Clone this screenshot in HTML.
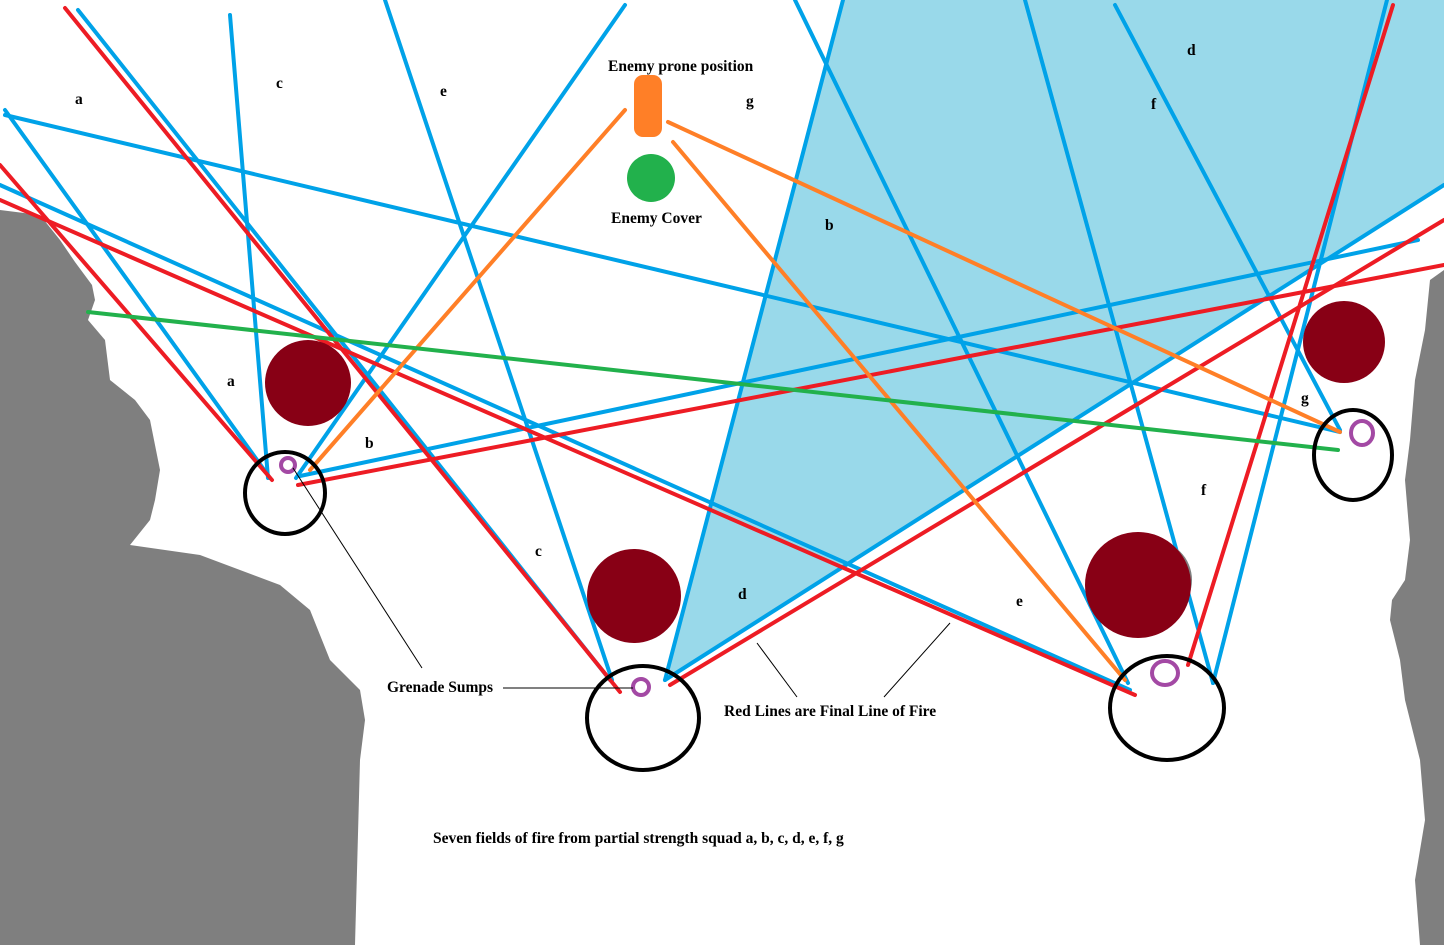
<!DOCTYPE html>
<html><head><meta charset="utf-8"><style>body{margin:0;background:#fff}svg{display:block}</style></head><body>
<svg width="1444" height="945" viewBox="0 0 1444 945" xmlns="http://www.w3.org/2000/svg">
<rect width="1444" height="945" fill="#fff"/>
<polygon fill="#7f7f7f" points="0,210 40,215 60,240 75,262 92,285 95,300 88,320 105,340 110,380 135,400 150,420 160,470 155,500 150,520 130,545 200,555 240,570 280,585 310,610 330,660 360,690 365,720 360,760 355,945 0,945"/>
<polygon fill="#7f7f7f" points="1444,270 1430,280 1425,330 1415,380 1410,440 1405,480 1410,540 1405,580 1392,600 1390,620 1400,660 1405,700 1420,760 1425,820 1415,880 1420,945 1444,945"/>
<polygon fill="#99d9ea" points="843,0 1444,0 1444,185 665,680"/>
<g stroke-width="4" stroke-linecap="round" fill="none">
<g stroke="#00a2e8">
<line x1="5" y1="110" x2="270" y2="478"/>
<line x1="5" y1="115" x2="1340" y2="432"/>
<line x1="230" y1="15" x2="268" y2="478"/>
<line x1="78" y1="10" x2="610" y2="680"/>
<line x1="385" y1="0" x2="612" y2="680"/>
<line x1="625" y1="5" x2="296" y2="478"/>
<line x1="300" y1="476" x2="1418" y2="240"/>
<line x1="0" y1="185" x2="1130" y2="690"/>
<line x1="843" y1="0" x2="665" y2="680"/>
<line x1="665" y1="680" x2="1444" y2="185"/>
<line x1="795" y1="0" x2="1128" y2="683"/>
<line x1="1025" y1="0" x2="1213" y2="683"/>
<line x1="1387" y1="0" x2="1213" y2="683"/>
<line x1="1115" y1="5" x2="1340" y2="430"/>
</g>
<g stroke="#ed1c24">
<line x1="0" y1="165" x2="272" y2="480"/>
<line x1="65" y1="8" x2="620" y2="692"/>
<line x1="298" y1="485" x2="1444" y2="265"/>
<line x1="0" y1="200" x2="1135" y2="695"/>
<line x1="670" y1="685" x2="1444" y2="220"/>
<line x1="1188" y1="665" x2="1393" y2="5"/>
</g>
<g stroke="#ff7f27">
<line x1="625" y1="110" x2="310" y2="470"/>
<line x1="668" y1="122" x2="1340" y2="432"/>
<line x1="673" y1="142" x2="1125" y2="680"/>
</g>
<line stroke="#22b14c" x1="88" y1="312" x2="1338" y2="450"/>
</g>
<circle cx="308" cy="383" r="43" fill="#880015"/>
<circle cx="634" cy="596" r="47" fill="#880015"/>
<circle cx="1152" cy="580" r="40" fill="#7f7f7f"/>
<circle cx="1138" cy="585" r="53" fill="#880015"/>
<circle cx="1344" cy="342" r="41" fill="#880015"/>
<g fill="none" stroke="#000" stroke-width="4">
<ellipse cx="285" cy="493" rx="40" ry="41"/>
<ellipse cx="643" cy="718" rx="56" ry="52"/>
<ellipse cx="1167" cy="708" rx="57" ry="52"/>
<ellipse cx="1353" cy="455" rx="39" ry="45"/>
</g>
<g fill="none" stroke="#a349a4" stroke-width="4">
<circle cx="288" cy="465" r="7"/>
<circle cx="641" cy="687" r="8"/>
<ellipse cx="1165" cy="673" rx="13" ry="12"/>
<ellipse cx="1362" cy="433" rx="11" ry="12"/>
</g>
<rect x="634" y="75" width="28" height="62" rx="9" fill="#ff7f27"/>
<circle cx="651" cy="178" r="24" fill="#22b14c"/>
<g stroke="#000" stroke-width="1">
<line x1="293" y1="468" x2="422" y2="668"/>
<line x1="503" y1="688" x2="633" y2="688"/>
<line x1="757" y1="643" x2="797" y2="697"/>
<line x1="950" y1="623" x2="884" y2="697"/>
</g>
<g font-family="Liberation Serif, serif" font-weight="bold" font-size="15.5" fill="#000">
<text x="608" y="71">Enemy prone position</text>
<text x="611" y="223">Enemy Cover</text>
<text x="387" y="692">Grenade Sumps</text>
<text x="724" y="716">Red Lines are Final Line of Fire</text>
<text x="433" y="843">Seven fields of fire from partial strength squad  a, b, c, d, e, f, g</text>
<text x="75" y="104">a</text><text x="227" y="386">a</text>
<text x="276" y="88">c</text><text x="535" y="556">c</text>
<text x="440" y="96">e</text><text x="1016" y="606">e</text>
<text x="746" y="106">g</text><text x="1301" y="403">g</text>
<text x="1187" y="55">d</text><text x="738" y="599">d</text>
<text x="1151" y="109">f</text><text x="1201" y="495">f</text>
<text x="825" y="230">b</text><text x="365" y="448">b</text>
</g>
</svg>
</body></html>
